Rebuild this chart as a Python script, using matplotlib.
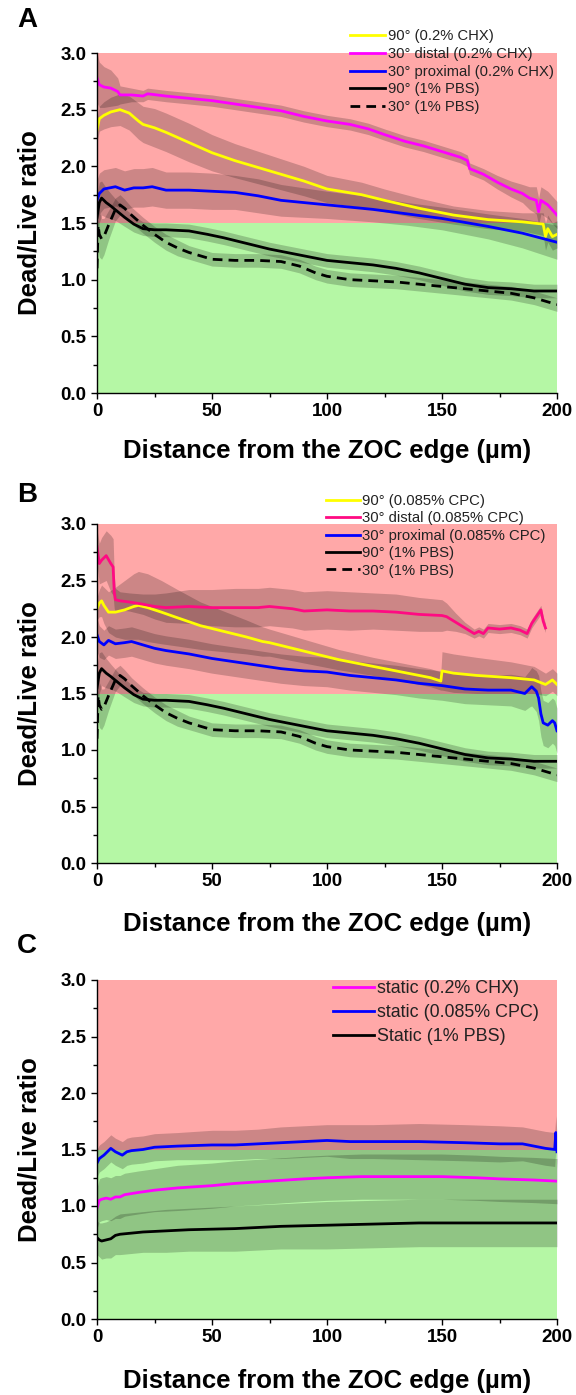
import matplotlib
matplotlib.use("Agg")
import matplotlib.pyplot as plt
from matplotlib.ticker import MultipleLocator

plt.rcParams['font.family'] = ['Liberation Sans', 'DejaVu Sans']

# ---------------- DATA ----------------
# Panel A (0.2% CHX)
a_mag_x = [0, 1, 3, 6, 9, 10, 15, 20, 22, 30, 40, 50, 60, 70, 80, 90, 100, 110, 118, 125, 134, 142, 150, 158, 161, 162, 168, 174, 180, 185, 188, 191, 192, 193, 196, 200]
a_mag_y = [2.78, 2.72, 2.70, 2.69, 2.66, 2.63, 2.63, 2.62, 2.64, 2.62, 2.60, 2.58, 2.55, 2.52, 2.49, 2.44, 2.40, 2.37, 2.33, 2.28, 2.22, 2.18, 2.13, 2.08, 2.05, 1.98, 1.93, 1.86, 1.80, 1.76, 1.72, 1.70, 1.60, 1.70, 1.66, 1.57]
a_mag_e = [0.22, 0.20, 0.18, 0.16, 0.12, 0.08, 0.06, 0.05, 0.05, 0.05, 0.05, 0.05, 0.05, 0.05, 0.05, 0.05, 0.05, 0.05, 0.05, 0.05, 0.05, 0.05, 0.05, 0.05, 0.05, 0.05, 0.05, 0.06, 0.07, 0.08, 0.10, 0.12, 0.12, 0.12, 0.12, 0.12]

a_yel_x = [0, 1, 3, 6, 10, 14, 18, 20, 25, 30, 40, 50, 60, 75, 90, 100, 115, 125, 140, 155, 170, 185, 194, 195, 196, 198, 200]
a_yel_y = [2.32, 2.42, 2.45, 2.48, 2.50, 2.47, 2.40, 2.37, 2.34, 2.30, 2.21, 2.12, 2.05, 1.96, 1.87, 1.80, 1.75, 1.70, 1.63, 1.57, 1.53, 1.51, 1.49, 1.38, 1.45, 1.38, 1.40]
a_yel_e = [0.10, 0.11, 0.12, 0.13, 0.14, 0.15, 0.16, 0.16, 0.17, 0.17, 0.17, 0.16, 0.15, 0.14, 0.13, 0.12, 0.11, 0.10, 0.09, 0.08, 0.08, 0.08, 0.10, 0.12, 0.12, 0.12, 0.12]

a_blu_x = [0, 1, 3, 8, 12, 16, 20, 24, 30, 40, 50, 60, 70, 80, 90, 100, 120, 135, 150, 170, 185, 200]
a_blu_y = [1.70, 1.76, 1.80, 1.82, 1.79, 1.81, 1.81, 1.82, 1.79, 1.79, 1.78, 1.77, 1.74, 1.70, 1.68, 1.66, 1.62, 1.58, 1.54, 1.47, 1.41, 1.33]
a_blu_e = [0.18, 0.18, 0.17, 0.17, 0.17, 0.17, 0.17, 0.17, 0.16, 0.16, 0.16, 0.15, 0.15, 0.14, 0.13, 0.12, 0.11, 0.10, 0.10, 0.11, 0.13, 0.15]

# PBS controls (shared by A and B)
pbs90_x = [0, 1, 2, 4, 6, 9, 12, 16, 20, 25, 30, 40, 48, 55, 65, 75, 85, 100, 110, 120, 130, 140, 150, 160, 170, 180, 190, 200]
pbs90_y = [1.55, 1.68, 1.72, 1.68, 1.65, 1.60, 1.55, 1.49, 1.45, 1.44, 1.44, 1.43, 1.40, 1.37, 1.32, 1.27, 1.23, 1.17, 1.15, 1.13, 1.10, 1.06, 1.01, 0.96, 0.93, 0.92, 0.90, 0.90]
pbs90_e = [0.20, 0.18, 0.15, 0.13, 0.11, 0.09, 0.08, 0.07, 0.06, 0.06, 0.06, 0.06, 0.06, 0.06, 0.06, 0.06, 0.06, 0.06, 0.06, 0.06, 0.06, 0.06, 0.06, 0.06, 0.06, 0.06, 0.06, 0.06]

pbs30_x = [0, 0.5, 1, 2, 3, 5, 8, 10, 12, 15, 20, 25, 30, 35, 40, 45, 50, 60, 70, 80, 88, 95, 100, 110, 120, 130, 140, 150, 160, 170, 180, 190, 200]
pbs30_y = [1.10, 1.48, 1.40, 1.36, 1.38, 1.48, 1.62, 1.66, 1.63, 1.57, 1.48, 1.40, 1.33, 1.28, 1.24, 1.21, 1.18, 1.17, 1.17, 1.16, 1.12, 1.06, 1.03, 1.00, 0.99, 0.98, 0.96, 0.94, 0.92, 0.90, 0.88, 0.84, 0.78]
pbs30_e = [0.25, 0.22, 0.20, 0.18, 0.16, 0.13, 0.10, 0.09, 0.08, 0.07, 0.07, 0.07, 0.07, 0.07, 0.06, 0.06, 0.06, 0.06, 0.06, 0.06, 0.06, 0.06, 0.06, 0.06, 0.06, 0.06, 0.06, 0.06, 0.06, 0.06, 0.06, 0.06, 0.06]

# Panel B (0.085% CPC)
b_pnk_x = [0, 1, 2, 4, 6, 7, 7.5, 8, 10, 14, 20, 25, 30, 40, 50, 60, 70, 75, 85, 90, 100, 110, 120, 130, 140, 150, 152, 156, 160, 164, 166, 168, 170, 175, 180, 184, 187, 189, 191, 193, 194, 195]
b_pnk_y = [2.80, 2.65, 2.68, 2.72, 2.65, 2.62, 2.40, 2.33, 2.32, 2.31, 2.29, 2.27, 2.26, 2.27, 2.26, 2.26, 2.26, 2.27, 2.25, 2.23, 2.24, 2.23, 2.23, 2.22, 2.20, 2.19, 2.18, 2.13, 2.08, 2.03, 2.05, 2.03, 2.08, 2.07, 2.08, 2.06, 2.03, 2.12, 2.18, 2.24, 2.14, 2.08]
b_pnk_e = [0.15, 0.18, 0.20, 0.22, 0.25, 0.25, 0.15, 0.10, 0.08, 0.08, 0.09, 0.11, 0.13, 0.15, 0.16, 0.17, 0.17, 0.17, 0.17, 0.17, 0.17, 0.17, 0.16, 0.16, 0.15, 0.14, 0.12, 0.08, 0.05, 0.04, 0.04, 0.04, 0.04, 0.04, 0.04, 0.04, 0.04, 0.04, 0.04, 0.04, 0.04, 0.04]

b_yel_x = [0, 1, 2, 3, 5, 8, 12, 16, 18, 22, 28, 35, 45, 55, 65, 72, 75, 85, 95, 105, 120, 135, 145, 149.5, 150, 155, 165, 180, 190, 195, 198, 200]
b_yel_y = [2.25, 2.30, 2.32, 2.28, 2.22, 2.22, 2.24, 2.27, 2.28, 2.26, 2.22, 2.17, 2.10, 2.05, 2.00, 1.96, 1.95, 1.90, 1.85, 1.80, 1.74, 1.68, 1.64, 1.61, 1.70, 1.68, 1.66, 1.64, 1.62, 1.58, 1.62, 1.58]
b_yel_e = [0.10, 0.12, 0.14, 0.16, 0.18, 0.22, 0.26, 0.29, 0.30, 0.30, 0.28, 0.25, 0.21, 0.18, 0.15, 0.13, 0.12, 0.11, 0.10, 0.09, 0.08, 0.08, 0.08, 0.08, 0.17, 0.17, 0.16, 0.14, 0.12, 0.10, 0.10, 0.10]

b_blu_x = [0, 1, 3, 5, 8, 12, 15, 20, 25, 30, 40, 50, 60, 70, 80, 90, 100, 110, 120, 130, 140, 150, 160, 170, 180, 186, 188, 189, 191, 192, 193, 194, 196, 198, 199, 200]
b_blu_y = [2.02, 1.96, 1.93, 1.97, 1.94, 1.95, 1.96, 1.93, 1.90, 1.88, 1.85, 1.81, 1.78, 1.75, 1.72, 1.70, 1.69, 1.66, 1.64, 1.62, 1.59, 1.57, 1.54, 1.53, 1.53, 1.50, 1.54, 1.56, 1.52, 1.46, 1.32, 1.24, 1.22, 1.26, 1.24, 1.17]
b_blu_e = [0.15, 0.14, 0.13, 0.13, 0.13, 0.13, 0.13, 0.13, 0.13, 0.13, 0.13, 0.13, 0.13, 0.13, 0.13, 0.13, 0.13, 0.13, 0.13, 0.13, 0.13, 0.13, 0.13, 0.13, 0.14, 0.15, 0.16, 0.17, 0.18, 0.20, 0.20, 0.20, 0.20, 0.20, 0.20, 0.20]

# Panel C (static)
c_mag_x = [0, 1, 2, 4, 6, 8, 10, 12, 18, 25, 35, 50, 60, 75, 90, 100, 115, 125, 140, 150, 165, 175, 190, 200]
c_mag_y = [0.98, 1.05, 1.06, 1.07, 1.06, 1.08, 1.08, 1.10, 1.12, 1.14, 1.16, 1.18, 1.20, 1.22, 1.24, 1.25, 1.26, 1.26, 1.26, 1.26, 1.25, 1.24, 1.23, 1.22]
c_mag_e = [0.18, 0.19, 0.19, 0.19, 0.19, 0.19, 0.19, 0.19, 0.19, 0.19, 0.20, 0.20, 0.20, 0.20, 0.20, 0.20, 0.20, 0.20, 0.20, 0.20, 0.20, 0.20, 0.20, 0.20]

c_blu_x = [0, 1, 3, 6, 8, 11, 13, 15, 20, 25, 35, 50, 60, 70, 80, 90, 100, 110, 120, 140, 160, 175, 185, 190, 195, 199, 199.5, 200]
c_blu_y = [1.38, 1.42, 1.45, 1.51, 1.48, 1.45, 1.48, 1.49, 1.50, 1.52, 1.53, 1.54, 1.54, 1.55, 1.56, 1.57, 1.58, 1.57, 1.57, 1.57, 1.56, 1.55, 1.55, 1.53, 1.51, 1.50, 1.65, 1.48]
c_blu_e = [0.12, 0.12, 0.12, 0.12, 0.12, 0.12, 0.12, 0.12, 0.12, 0.12, 0.12, 0.13, 0.13, 0.13, 0.14, 0.14, 0.14, 0.15, 0.15, 0.16, 0.16, 0.16, 0.15, 0.15, 0.15, 0.15, 0.15, 0.15]

c_blk_x = [0, 1, 2, 4, 6, 8, 10, 15, 20, 30, 40, 60, 80, 100, 120, 140, 160, 180, 200]
c_blk_y = [0.72, 0.70, 0.69, 0.70, 0.71, 0.74, 0.75, 0.76, 0.77, 0.78, 0.79, 0.80, 0.82, 0.83, 0.84, 0.85, 0.85, 0.85, 0.85]
c_blk_e = [0.15, 0.15, 0.16, 0.16, 0.17, 0.17, 0.18, 0.18, 0.18, 0.19, 0.19, 0.20, 0.20, 0.21, 0.21, 0.21, 0.21, 0.21, 0.21]

labels_a = ["90° (0.2% CHX)", "30° distal (0.2% CHX)", "30° proximal (0.2% CHX)", "90° (1% PBS)", "30° (1% PBS)"]
labels_b = ["90° (0.085% CPC)", "30° distal (0.085% CPC)", "30° proximal (0.085% CPC)", "90° (1% PBS)", "30° (1% PBS)"]
labels_c = ["static (0.2% CHX)", "static (0.085% CPC)", "Static (1% PBS)"]

xticks = [0, 50, 100, 150, 200]
yticks = [0.0, 0.5, 1.0, 1.5, 2.0, 2.5, 3.0]

# ---------------- STYLE ----------------
RED_BG = '#FFA8A8'
GREEN_BG = '#B5F7A5'
YELLOW = '#FFFF00'
MAGENTA = '#FF00FF'
PINK = '#FF0A82'
BLUE = '#0000FF'
BLACK = '#000000'
DASH = (0, (3.5, 2.2))
LW = 2.0

W, H = 576, 1395
fig = plt.figure(figsize=(W / 100, H / 100), dpi=100)


def make_axes(top_px, bot_px):
    ax = fig.add_axes([97 / W, 1 - bot_px / H, 460 / W, (bot_px - top_px) / H])
    ax.set_xlim(0, 200)
    ax.set_ylim(0, 3.0)
    ax.axhspan(1.5, 3.0, color=RED_BG, lw=0, zorder=0)
    ax.axhspan(0.0, 1.5, color=GREEN_BG, lw=0, zorder=0)
    for s in ['top', 'right']:
        ax.spines[s].set_visible(False)
    for s in ['left', 'bottom']:
        ax.spines[s].set_linewidth(1.0)
        ax.spines[s].set_zorder(5)
    ax.set_xticks(xticks)
    ax.set_yticks(yticks)
    ax.set_xticklabels([str(t) for t in xticks])
    ax.set_yticklabels(['%.1f' % t for t in yticks])
    ax.xaxis.set_minor_locator(MultipleLocator(25))
    ax.yaxis.set_minor_locator(MultipleLocator(0.25))
    ax.tick_params(which='major', direction='out', length=4.5, width=1.0, labelsize=13.5, pad=3.0)
    ax.tick_params(which='minor', direction='out', length=2.6, width=1.0)
    for lab in ax.get_xticklabels() + ax.get_yticklabels():
        lab.set_fontweight('bold')
    ax.set_xlabel('Distance from the ZOC edge (µm)', fontsize=18.5, fontweight='bold')
    ax.set_ylabel('Dead/Live ratio', fontsize=18.5, fontweight='bold')
    ax.yaxis.set_label_coords(-0.12, 0.5)
    return ax


def series(ax, x, y, e, color, ls='-', label=None):
    lo = [a - b for a, b in zip(y, e)]
    hi = [a + b for a, b in zip(y, e)]
    ax.fill_between(x, lo, hi, color='black', alpha=0.2, lw=0, zorder=1)
    line, = ax.plot(x, y, color=color, lw=LW, ls=ls, label=label, zorder=3)
    return line


def legend(ax, handles, labels, x_px, top_px, fs, hl, sp):
    leg = ax.legend(handles, labels, loc='upper left',
                    bbox_to_anchor=(x_px / W, 1 - top_px / H), bbox_transform=fig.transFigure,
                    frameon=False, fontsize=fs, handlelength=hl, handletextpad=0.15,
                    labelspacing=sp, borderpad=0, borderaxespad=0)
    leg.set_zorder(10)
    for t in leg.get_texts():
        t.set_color('#222222')
    return leg


# Panel A
axA = make_axes(53, 393)
axA.xaxis.set_label_coords(0.5, -0.135)
h1 = series(axA, a_yel_x, a_yel_y, a_yel_e, YELLOW)
h2 = series(axA, a_mag_x, a_mag_y, a_mag_e, MAGENTA)
h3 = series(axA, a_blu_x, a_blu_y, a_blu_e, BLUE)
h4 = series(axA, pbs90_x, pbs90_y, pbs90_e, BLACK)
h5 = series(axA, pbs30_x, pbs30_y, pbs30_e, BLACK, ls=DASH)
legend(axA, [h1, h2, h3, h4, h5], labels_a, 350, 29, 10.6, 2.4, 0.26)

# Panel B
axB = make_axes(524, 863)
axB.xaxis.set_label_coords(0.5, -0.145)
g1 = series(axB, b_yel_x, b_yel_y, b_yel_e, YELLOW)
g2 = series(axB, b_pnk_x, b_pnk_y, b_pnk_e, PINK)
g3 = series(axB, b_blu_x, b_blu_y, b_blu_e, BLUE)
g4 = series(axB, pbs90_x, pbs90_y, pbs90_e, BLACK)
g5 = series(axB, pbs30_x, pbs30_y, pbs30_e, BLACK, ls=DASH)
legend(axB, [g1, g2, g3, g4, g5], labels_b, 326, 494, 10.7, 2.3, 0.23)

# Panel C
axC = make_axes(980, 1319)
axC.xaxis.set_label_coords(0.5, -0.148)
k1 = series(axC, c_mag_x, c_mag_y, c_mag_e, MAGENTA)
k2 = series(axC, c_blu_x, c_blu_y, c_blu_e, BLUE)
k3 = series(axC, c_blk_x, c_blk_y, c_blk_e, BLACK)
legend(axC, [k1, k2, k3], labels_c, 333, 980, 12.9, 2.3, 0.4)

# Panel letters
for letter, top in [('A', 7), ('B', 482), ('C', 933)]:
    fig.text(17 / W, 1 - top / H, letter, fontsize=20, fontweight='bold', va='top', ha='left')

fig.savefig('out.png', dpi=100)
